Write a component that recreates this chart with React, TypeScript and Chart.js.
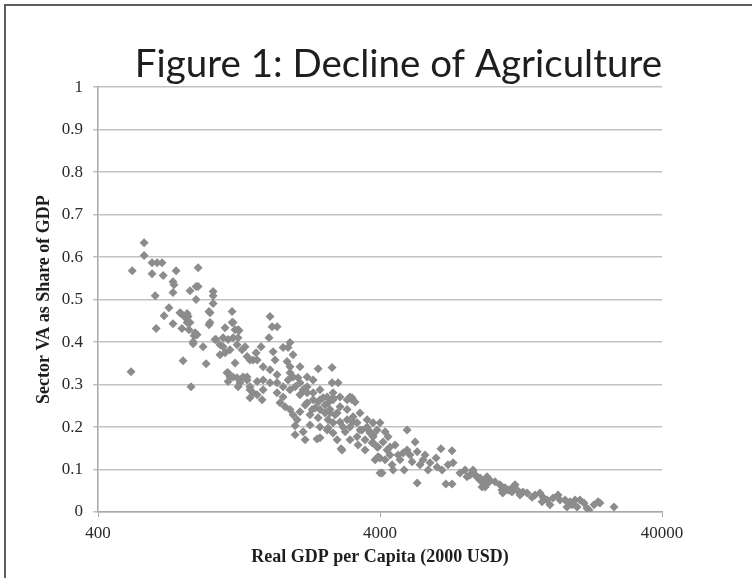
import React, { useEffect, useRef } from "react";
import { Chart, registerables } from "chart.js";

Chart.register(...registerables);

const chartTitle = "Figure 1: Decline of Agriculture";
const xAxisTitle = "Real GDP per Capita (2000 USD)";
const yAxisTitle = "Sector VA as Share of GDP";
const xTickValues = [400, 4000, 40000];
const yMin = 0;
const yMax = 1;
const yStep = 0.1;

// [real GDP per capita (2000 USD), agriculture VA share of GDP]
const observations: [number, number][] = [
  [583,0.634],[583,0.604],[622,0.587],[648,0.587],[675,0.587],[529,0.568],[622,0.561],[681,0.557],[757,0.568],[906,0.575],
  [738,0.542],[744,0.535],[738,0.517],[848,0.521],[891,0.531],[906,0.531],[1024,0.519],[1024,0.509],[638,0.509],[891,0.500],
  [714,0.481],[686,0.462],[1024,0.491],[990,0.472],[788,0.467],[828,0.467],[835,0.460],[738,0.443],[1195,0.472],[643,0.432],
  [828,0.446],[794,0.432],[841,0.429],[990,0.441],[1129,0.434],[1225,0.429],[877,0.415],[898,0.417],[870,0.396],[943,0.389],
  [1040,0.406],[1083,0.394],[1111,0.389],[1157,0.406],[1205,0.410],[1255,0.410],[1083,0.370],[1129,0.375],[801,0.356],[967,0.349],
  [524,0.330],[1225,0.351],[1157,0.328],[1205,0.318],[1245,0.316],[855,0.295],
  [1629,0.460],[1657,0.436],[1726,0.436],[1616,0.410],[1813,0.387],[1515,0.389],[1455,0.375],[1671,0.377],[1205,0.446],[1265,0.427],
  [1049,0.406],[1111,0.410],[1245,0.394],[1297,0.382],[1351,0.366],[1384,0.358],[1467,0.358],[1540,0.342],[1147,0.328],[1175,0.318],
  [1308,0.318],[1351,0.311],[1157,0.307],[1275,0.304],[1384,0.295],[1467,0.307],[1540,0.311],[1629,0.304],[1726,0.304],[1813,0.295],
  [1888,0.311],[1419,0.281],[1540,0.288],[1726,0.281],[1813,0.271],[1918,0.288],[1329,0.389],[1419,0.358],[1629,0.335],[1726,0.323],
  [1918,0.342],
  [1918,0.399],[1888,0.387],[1967,0.370],[1698,0.358],[1873,0.354],[1918,0.328],[2049,0.316],[2082,0.304],[2000,0.295],[2135,0.288],
  [2206,0.281],[2082,0.276],[2413,0.337],[2704,0.340],[2704,0.304],[2841,0.304],[1768,0.257],[1843,0.248],[1918,0.241],[1967,0.229],
  [2033,0.217],[2000,0.203],[2000,0.182],[2393,0.172],[2935,0.146],
  [2317,0.264],[2413,0.259],[2513,0.269],[2617,0.257],[2727,0.264],[2355,0.245],[2451,0.241],[2555,0.233],[2659,0.241],[2773,0.229],
  [2259,0.229],[2413,0.222],[2617,0.217],[2451,0.200],[2597,0.193],[2727,0.186],[2886,0.248],[3058,0.241],[3184,0.264],[3211,0.224],
  [3317,0.210],[3455,0.193],[3600,0.200],[3686,0.186],[3780,0.177],[3906,0.153],[3937,0.130],[4000,0.092],
  [998,0.469],[781,0.469],[815,0.458],[848,0.446],[998,0.446],[1195,0.446],[1255,0.429],[884,0.422],[870,0.401],[1175,0.382],
  [1275,0.311],[1255,0.295],[1351,0.318],[1384,0.288],[1384,0.269],
  [1967,0.318],[2082,0.342],[2206,0.318],[2317,0.311],[2206,0.295],[2317,0.281],[2451,0.288],[2597,0.271],[2727,0.281],[2886,0.271],
  [3058,0.264],[3131,0.271],[2298,0.241],[2206,0.257],[2818,0.233],[2727,0.210],[3058,0.217],[3131,0.200],[3397,0.233],[3600,0.217],
  [3780,0.210],[3906,0.193],[3317,0.177],[3540,0.170],[3750,0.163],
  [2451,0.264],[2555,0.252],[2659,0.233],[2727,0.269],[3184,0.269],[3264,0.259],[2886,0.212],[2959,0.200],[2617,0.198],[2451,0.175],
  [2910,0.149],[3211,0.212],[3397,0.193],[3600,0.198],[3686,0.189],[3780,0.182],[4000,0.210],[4170,0.189],[4272,0.177],[4990,0.193],
  [3780,0.163],[3937,0.153],[4102,0.165],[4238,0.146],[4340,0.153],[4000,0.127],[4068,0.092],[4414,0.111],[4710,0.123],[4830,0.139],
  [4990,0.146],[5328,0.165],[5420,0.142],[5686,0.123],[5420,0.068],[4870,0.099],[6017,0.116],[6374,0.106],[6640,0.099],[6970,0.111],
  [7264,0.116],[6580,0.149],[7206,0.144],[6850,0.066],[7206,0.066],[7686,0.092],[8141,0.083],[8550,0.099],[8824,0.083],[9050,0.075],
  [9590,0.083],[9665,0.068],[9435,0.059],[10655,0.064],[11560,0.052],[11855,0.059],[12250,0.052],[12545,0.045],
  [4525,0.158],[4636,0.134],[5110,0.134],[5197,0.118],[5545,0.111],[5780,0.134],[5923,0.099],[6322,0.127],[4450,0.099],[4170,0.123],
  [4340,0.134],[3843,0.123],[3540,0.146],[3344,0.158],[3131,0.170],[3010,0.189],[2818,0.170],[2259,0.205],[2135,0.189],[2170,0.170],
  [8550,0.094],[8695,0.087],[9050,0.080],[9280,0.071],[9590,0.075],[9820,0.075],[9205,0.059],[10820,0.052],[10900,0.045],[11750,0.047],
  [12860,0.047],[13290,0.045],[12545,0.040],[13840,0.035],[14190,0.040],[14770,0.045],[15140,0.035],[15020,0.024],[15650,0.028],[16430,0.033],
  [17120,0.040],[17390,0.028],[16025,0.017],[18130,0.028],[18870,0.024],[19670,0.028],[20475,0.028],[18420,0.012],[19190,0.017],[19990,0.012],
  [21150,0.021],[21680,0.009],[22030,0.005],[22970,0.017],[23740,0.024],[24100,0.021],[27030,0.012],
  [8010,0.099],[8340,0.087],[10230,0.071],[11100,0.057],[12050,0.064],[11380,0.052],
  [2170,0.252],[2082,0.236],[1467,0.276],[1527,0.264],
];

export default function App() {
  const canvasRef = useRef<HTMLCanvasElement | null>(null);

  useEffect(() => {
    const canvas = canvasRef.current;
    if (!canvas) return;
    const chart = new Chart(canvas, {
      type: "scatter",
      data: {
        datasets: [
          {
            label: "Agriculture",
            data: observations.map(([x, y]) => ({ x, y })),
            pointStyle: "rectRot",
            pointRadius: 4.5,
            pointHoverRadius: 4.5,
            backgroundColor: "#8c8c8c",
            borderColor: "#8c8c8c",
            borderWidth: 0,
          },
        ],
      },
      options: {
        animation: false,
        responsive: false,
        events: [],
        layout: { padding: { top: 0, right: 90, bottom: 0, left: 0 } },
        plugins: {
          legend: { display: false },
          tooltip: { enabled: false },
          title: {
            display: true,
            text: chartTitle,
            align: "end",
            color: "#1e1e1e",
            font: { family: "Lato", size: 38.5, weight: "normal", lineHeight: 1.2 },
            padding: { top: 41, bottom: 0 },
          },
        },
        scales: {
          x: {
            type: "logarithmic",
            min: xTickValues[0],
            max: xTickValues[xTickValues.length - 1],
            afterBuildTicks: (scale: any) => {
              scale.ticks = xTickValues.map((v) => ({ value: v }));
            },
            afterFit: (scale: any) => {
              scale.height = 66;
            },
            grid: {
              display: true,
              drawOnChartArea: false,
              drawTicks: true,
              tickLength: 5,
              color: "#a8a8a8",
              lineWidth: 1,
            },
            border: { display: true, color: "#a8a8a8", width: 1.5 },
            ticks: {
              autoSkip: false,
              maxRotation: 0,
              padding: 6,
              color: "#2a2a2a",
              font: { family: "Liberation Serif", size: 17 },
              callback: (v: any) => String(v),
            },
            title: {
              display: true,
              text: xAxisTitle,
              color: "#1e1e1e",
              font: { family: "Liberation Serif", size: 18, weight: "bold", lineHeight: 1.2 },
              padding: { top: 0, bottom: 10 },
            },
          },
          y: {
            type: "linear",
            min: yMin,
            max: yMax,
            afterFit: (scale: any) => {
              scale.width = 98;
            },
            grid: {
              display: true,
              drawOnChartArea: true,
              drawTicks: true,
              tickLength: 5,
              color: "#c2c2c2",
              lineWidth: 1.5,
            },
            border: { display: true, color: "#a8a8a8", width: 1.5 },
            ticks: {
              stepSize: yStep,
              padding: 10,
              color: "#2a2a2a",
              font: { family: "Liberation Serif", size: 17 },
              callback: (v: any) => String(Math.round(Number(v) * 10) / 10),
            },
            title: {
              display: true,
              text: yAxisTitle,
              color: "#1e1e1e",
              font: { family: "Liberation Serif", size: 18, weight: "bold", lineHeight: 1.2 },
              padding: { top: 34, bottom: 0 },
            },
          },
        },
      },
    });
    return () => chart.destroy();
  }, []);

  return (
    <div
      style={{
        position: "fixed",
        left: 0,
        top: 0,
        width: 752,
        height: 578,
        background: "#ffffff",
        overflow: "hidden",
      }}
    >
      <canvas
        ref={canvasRef}
        width={752}
        height={578}
        style={{ position: "absolute", left: 0, top: 0, width: 752, height: 578 }}
      />
      <div
        style={{
          position: "absolute",
          left: 4,
          top: 4,
          right: 0,
          bottom: 0,
          borderLeft: "2px solid #5e5e5e",
          borderTop: "2px solid #5e5e5e",
          pointerEvents: "none",
        }}
      />
    </div>
  );
}
